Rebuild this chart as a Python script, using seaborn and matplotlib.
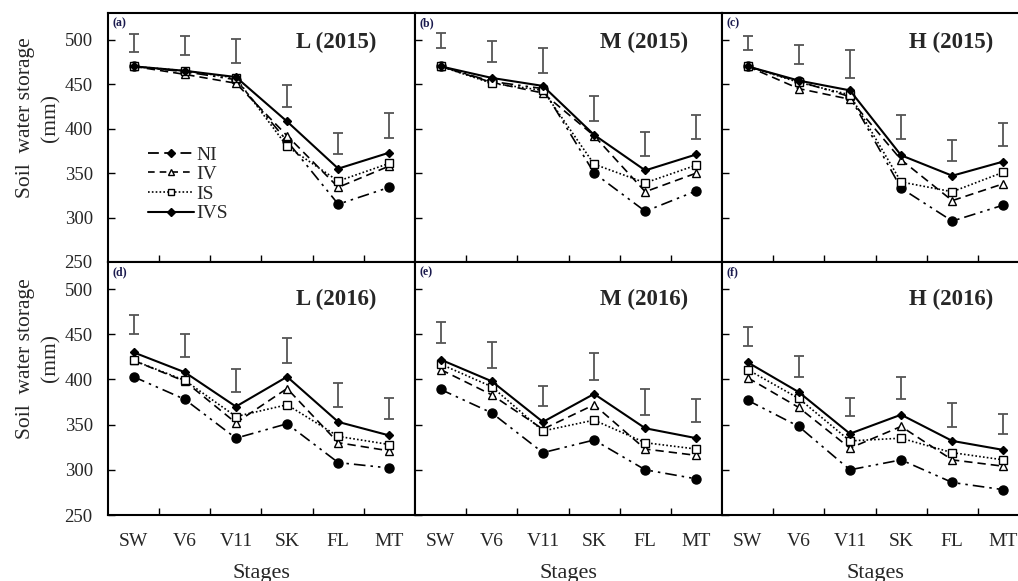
import numpy as np
import pandas as pd
import matplotlib
matplotlib.use("Agg")
import matplotlib.pyplot as plt
from matplotlib.lines import Line2D
import seaborn as sns

sns.set_theme(style="white")
plt.rcParams['font.family'] = ['Liberation Serif', 'DejaVu Serif']

stages = ["SW", "V6", "V11", "SK", "FL", "MT"]
treatments = ["NI", "IV", "IS", "IVS"]
panel_titles = ["L (2015)", "M (2015)", "H (2015)", "L (2016)", "M (2016)", "H (2016)"]
panel_letters = ["(a)", "(b)", "(c)", "(d)", "(e)", "(f)"]

# (a) L 2015
a_NI = [470, 464, 455, 386, 315, 334]
a_IV = [470, 461, 451, 392, 334, 358]
a_IS = [470, 465, 457, 380, 341, 361]
a_IVS = [470, 465, 458, 408, 355, 373]
a_err_lo = [486, 483, 474, 424, 372, 390]
a_err_hi = [506, 504, 501, 449, 395, 417]
# (b) M 2015
b_NI = [470, 453, 445, 350, 307, 330]
b_IV = [470, 452, 440, 392, 329, 350]
b_IS = [470, 451, 443, 360, 339, 359]
b_IVS = [470, 457, 448, 393, 353, 371]
b_err_lo = [491, 475, 463, 408, 369, 388]
b_err_hi = [508, 499, 491, 437, 396, 415]
# (c) H 2015
c_NI = [470, 453, 436, 333, 296, 314]
c_IV = [470, 445, 433, 365, 319, 338]
c_IS = [470, 452, 438, 340, 329, 351]
c_IVS = [470, 454, 443, 370, 347, 363]
c_err_lo = [488, 473, 457, 388, 364, 381]
c_err_hi = [504, 494, 488, 415, 387, 406]
# (d) L 2016
d_NI = [403, 378, 335, 351, 308, 302]
d_IV = [421, 398, 352, 390, 330, 321]
d_IS = [421, 399, 359, 372, 337, 328]
d_IVS = [430, 408, 370, 403, 353, 338]
d_err_lo = [450, 425, 386, 418, 369, 356]
d_err_hi = [471, 450, 412, 446, 396, 379]
# (e) M 2016
e_NI = [389, 363, 319, 333, 300, 290]
e_IV = [411, 383, 345, 372, 323, 316]
e_IS = [417, 392, 343, 355, 330, 323]
e_IVS = [422, 398, 353, 384, 346, 335]
e_err_lo = [440, 413, 371, 399, 361, 353]
e_err_hi = [464, 441, 393, 429, 389, 378]
# (f) H 2016
f_NI = [377, 348, 300, 311, 286, 278]
f_IV = [402, 369, 324, 348, 311, 304]
f_IS = [411, 379, 332, 335, 319, 311]
f_IVS = [419, 386, 340, 361, 332, 322]
f_err_lo = [437, 403, 360, 378, 347, 340]
f_err_hi = [458, 426, 380, 403, 374, 362]

panels = [
    (dict(NI=a_NI, IV=a_IV, IS=a_IS, IVS=a_IVS), a_err_lo, a_err_hi),
    (dict(NI=b_NI, IV=b_IV, IS=b_IS, IVS=b_IVS), b_err_lo, b_err_hi),
    (dict(NI=c_NI, IV=c_IV, IS=c_IS, IVS=c_IVS), c_err_lo, c_err_hi),
    (dict(NI=d_NI, IV=d_IV, IS=d_IS, IVS=d_IVS), d_err_lo, d_err_hi),
    (dict(NI=e_NI, IV=e_IV, IS=e_IS, IVS=e_IVS), e_err_lo, e_err_hi),
    (dict(NI=f_NI, IV=f_IV, IS=f_IS, IVS=f_IVS), f_err_lo, f_err_hi),
]

styles = {
    "NI": dict(linestyle=(0, (7, 3, 1.5, 3, 1.5, 3)), marker="o", markersize=6.5,
               markerfacecolor="black", linewidth=1.2),
    "IV": dict(linestyle=(0, (5, 3)), marker="^", markersize=5.5,
               markerfacecolor="white", linewidth=1.2),
    "IS": dict(linestyle=(0, (1, 1.3)), marker="s", markersize=6,
               markerfacecolor="white", linewidth=1.2),
    "IVS": dict(linestyle="-", marker="D", markersize=4.5,
                markerfacecolor="black", linewidth=1.5),
}

fig = plt.figure(figsize=(10.18, 5.81), dpi=100)
W = 1018.0
H = 581.0
lefts = [108, 415, 722]
pw = 307
rows = [(13, 262), (262, 515)]

x_pos = np.arange(len(stages))

for idx, (series, elo, ehi) in enumerate(panels):
    r, c = divmod(idx, 3)
    top, bot = rows[r]
    ax = fig.add_axes([lefts[c] / W, 1 - bot / H, pw / W, (bot - top) / H])
    ax.set_facecolor("white")

    # error bars
    elo_a = np.array(elo, dtype=float)
    ehi_a = np.array(ehi, dtype=float)
    mid = (elo_a + ehi_a) / 2
    half = (ehi_a - elo_a) / 2
    ax.errorbar(x_pos, mid, yerr=half, fmt="none", ecolor="#555555",
                elinewidth=1.3, capsize=3.5, capthick=1.3)

    for t in treatments:
        df = pd.DataFrame({"pos": x_pos, "val": series[t]})
        sns.lineplot(data=df, x="pos", y="val", ax=ax, color="black",
                     markeredgecolor="black", markeredgewidth=1.0,
                     **styles[t])

    ax.set_xlim(-0.5, 5.5)
    ax.set_ylim(250, 530)
    ax.set_yticks([250, 300, 350, 400, 450, 500])
    ax.set_xticks(x_pos)
    ax.set_xticks(np.arange(0.5, 5, 1.0), minor=True)
    ax.tick_params(axis="x", which="major", length=0, labelsize=14, pad=13)
    ax.tick_params(axis="x", which="minor", direction="in", length=5,
                   width=1, bottom=True, color="black")
    ax.tick_params(axis="y", direction="in", length=5, width=1, left=True,
                   color="black", labelsize=13.5, pad=11)
    for s in ax.spines.values():
        s.set_color("black")
        s.set_linewidth(1.5)
    ax.set_xlabel("")
    ax.set_ylabel("")
    if r == 0:
        ax.set_xticklabels([])
    else:
        ax.set_xticklabels(stages)
        ax.set_xlabel("Stages", fontsize=16, labelpad=10)
    if c != 0:
        ax.set_yticklabels([])
    else:
        ax.set_ylabel("Soil  water storage\n(mm)", fontsize=15.5,
                      linespacing=1.45)
        ax.yaxis.set_label_coords(-0.155, [0.58, 0.62][r])

    title_x = [0.875, 0.89, 0.885][c]
    title_y = [0.88, 0.85][r]
    ax.text(title_x, title_y, panel_titles[idx], transform=ax.transAxes,
            ha="right", va="center", fontsize=16.5, fontweight="bold")
    ax.text(0.015, 0.96, panel_letters[idx], transform=ax.transAxes,
            ha="left", va="center", fontsize=8.5, fontweight="bold",
            color="#1a1a4e")

    if idx == 0:
        handles = [
            Line2D([], [], color="black", linestyle=(0, (6, 3)), marker="D",
                   markersize=4, markerfacecolor="black", linewidth=1.3),
            Line2D([], [], color="black", linestyle=(0, (4, 3)), marker="^",
                   markersize=4.5, markerfacecolor="white", linewidth=1.2),
            Line2D([], [], color="black", linestyle=(0, (1, 1.3)), marker="s",
                   markersize=4.5, markerfacecolor="white", linewidth=1.2),
            Line2D([], [], color="black", linestyle="-", marker="D",
                   markersize=4, markerfacecolor="black", linewidth=1.5),
        ]
        ax.legend(handles, treatments, loc="upper left",
                  bbox_to_anchor=(0.085, 0.52), frameon=False, fontsize=14,
                  handlelength=2.4, handletextpad=0.1, labelspacing=0.1,
                  borderpad=0.2)
    else:
        leg = ax.get_legend()
        if leg is not None:
            leg.remove()

fig.savefig("out.png", dpi=100)
